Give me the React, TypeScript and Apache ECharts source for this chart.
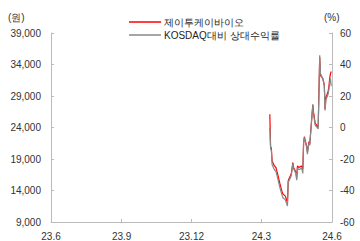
import React, { useEffect, useRef } from "react";
import * as echarts from "echarts";

const seriesNames = ["제이투케이바이오", "KOSDAQ대비 상대수익률"];
const tickDates = ["2023-06-01", "2023-09-01", "2023-12-01", "2024-03-01", "2024-06-01"];
const tickLabels = ["23.6", "23.9", "23.12", "24.3", "24.6"];
const leftTickLabels = ["9,000", "14,000", "19,000", "24,000", "29,000", "34,000", "39,000"];

const tradeDates = [
  "2024-03-12", "2024-03-13", "2024-03-14", "2024-03-15", "2024-03-18", "2024-03-19", "2024-03-20",
  "2024-03-21", "2024-03-22", "2024-03-25", "2024-03-26", "2024-03-27", "2024-03-28", "2024-03-29",
  "2024-04-01", "2024-04-02", "2024-04-03", "2024-04-04", "2024-04-05", "2024-04-08", "2024-04-09",
  "2024-04-11", "2024-04-12", "2024-04-15", "2024-04-16", "2024-04-17", "2024-04-18", "2024-04-19",
  "2024-04-22", "2024-04-23", "2024-04-24", "2024-04-25", "2024-04-26", "2024-04-29", "2024-04-30",
  "2024-05-02", "2024-05-03", "2024-05-07", "2024-05-08", "2024-05-09", "2024-05-10", "2024-05-13",
  "2024-05-14", "2024-05-16", "2024-05-17", "2024-05-20", "2024-05-21", "2024-05-22", "2024-05-23",
  "2024-05-24", "2024-05-27", "2024-05-28", "2024-05-29", "2024-05-30", "2024-05-31",
];
const prices = [
  26100, 21000, 20700, 18700, 17900, 17800, 17650,
  17150, 16700, 15150, 14700, 14230, 13820, 13450,
  13150, 12850, 12400, 12080, 15600, 16400, 16700,
  18430, 17660, 16900, 15900, 17900, 17770, 17660,
  17900, 17700, 17400, 21500, 22540, 21000, 20080,
  21770, 21310, 27660, 26380, 25620, 24690, 24230,
  24080, 35150, 32280, 31770, 31310, 30740, 26890,
  28690, 29770, 30540, 31770, 32540, 32890,
];
const relReturns = [
  0, -13.2, -14.5, -23.7, -26.8, -27.4, -28.0,
  -29.8, -31.7, -37.8, -39.7, -41.5, -43.1, -44.6,
  -45.8, -47.0, -48.5, -49.8, -34.8, -31.7, -30.5,
  -23.1, -26.2, -29.2, -33.5, -25.5, -26.2, -26.8,
  -25.8, -26.8, -29.2, -9.0, -6.5, -12.6, -16.9,
  -9.5, -11.4, 14.5, 8.3, 5.2, 1.5, -0.3,
  -0.9, 45.8, 34.2, 31.1, 28.6, 26.2, 10.8,
  17.5, 21.2, 24.3, 28.6, 31.1, 26.2,
];

function buildDays(): string[] {
  const out: string[] = [];
  const start = Date.UTC(2023, 5, 1);
  const end = Date.UTC(2024, 5, 1);
  for (let t = start; t <= end; t += 86400000) {
    out.push(new Date(t).toISOString().slice(0, 10));
  }
  return out;
}

export default function App() {
  const ref = useRef<HTMLDivElement>(null);
  useEffect(() => {
    if (!ref.current) return;
    const chart = echarts.init(ref.current, undefined, { renderer: "svg" });
    const days = buildDays();
    const priceMap: Record<string, number> = {};
    const relMap: Record<string, number> = {};
    tradeDates.forEach((d, i) => {
      priceMap[d] = prices[i];
      relMap[d] = relReturns[i];
    });
    const priceData = days.map((d) => (d in priceMap ? priceMap[d] : null));
    const relData = days.map((d) => (d in relMap ? relMap[d] : null));
    const isTick = (_i: number, v: string) => tickDates.indexOf(v) >= 0;
    const font = "Liberation Sans, Arial, sans-serif";
    chart.setOption({
      animation: false,
      grid: { left: 51, right: 28, top: 33, bottom: 13, containLabel: false },
      legend: {
        orient: "vertical",
        left: 124,
        top: 12,
        itemGap: 3,
        itemWidth: 32,
        itemHeight: 1.5,
        icon: "rect",
        textStyle: { fontSize: 10, color: "#222", fontFamily: font, padding: [0, 0, 0, -2] },
        data: seriesNames,
      },
      graphic: [
        { type: "text", left: 8, top: 12, style: { text: "(원)", fontSize: 10, fill: "#333", fontFamily: font } },
        { type: "text", left: 324, top: 12, style: { text: "(%)", fontSize: 10, fill: "#333", fontFamily: font } },
      ],
      xAxis: {
        type: "category",
        data: days,
        boundaryGap: false,
        axisLine: { lineStyle: { color: "#bbb", width: 1 } },
        axisTick: { show: true, inside: true, length: 3, interval: isTick, lineStyle: { color: "#bbb" } },
        axisLabel: {
          interval: isTick,
          formatter: (v: string) => tickLabels[tickDates.indexOf(v)],
          fontSize: 10,
          color: "#333",
          fontFamily: font,
          margin: 9,
        },
        splitLine: { show: false },
      },
      yAxis: [
        {
          type: "value",
          min: 0,
          max: 6,
          interval: 1,
          position: "left",
          axisLine: { show: true, lineStyle: { color: "#bbb" } },
          axisTick: { show: true, inside: true, length: 3, lineStyle: { color: "#bbb" } },
          axisLabel: {
            formatter: (v: number) => leftTickLabels[v],
            fontSize: 10,
            color: "#333",
            fontFamily: font,
            margin: 10,
          },
          splitLine: { show: false },
        },
        {
          type: "value",
          min: -60,
          max: 60,
          interval: 20,
          position: "right",
          axisLine: { show: true, lineStyle: { color: "#bbb" } },
          axisTick: { show: true, inside: true, length: 3, lineStyle: { color: "#bbb" } },
          axisLabel: { fontSize: 10, color: "#333", fontFamily: font, margin: 8 },
          splitLine: { show: false },
        },
        {
          type: "value",
          min: 9000,
          max: 39000,
          show: false,
          position: "left",
          splitLine: { show: false },
        },
      ],
      series: [
        {
          name: seriesNames[0],
          type: "line",
          yAxisIndex: 2,
          data: priceData,
          connectNulls: true,
          showSymbol: false,
          symbol: "none",
          color: "#ff0000",
          lineStyle: { color: "#ff0000", width: 1.2 },
        },
        {
          name: seriesNames[1],
          type: "line",
          yAxisIndex: 1,
          data: relData,
          connectNulls: true,
          showSymbol: false,
          symbol: "none",
          color: "#888888",
          lineStyle: { color: "#888888", width: 1.2 },
        },
      ],
    });
    return () => chart.dispose();
  }, []);
  return (
    <div
      ref={ref}
      style={{ position: "absolute", left: 0, top: 0, width: 360, height: 241, background: "#fff" }}
    />
  );
}
